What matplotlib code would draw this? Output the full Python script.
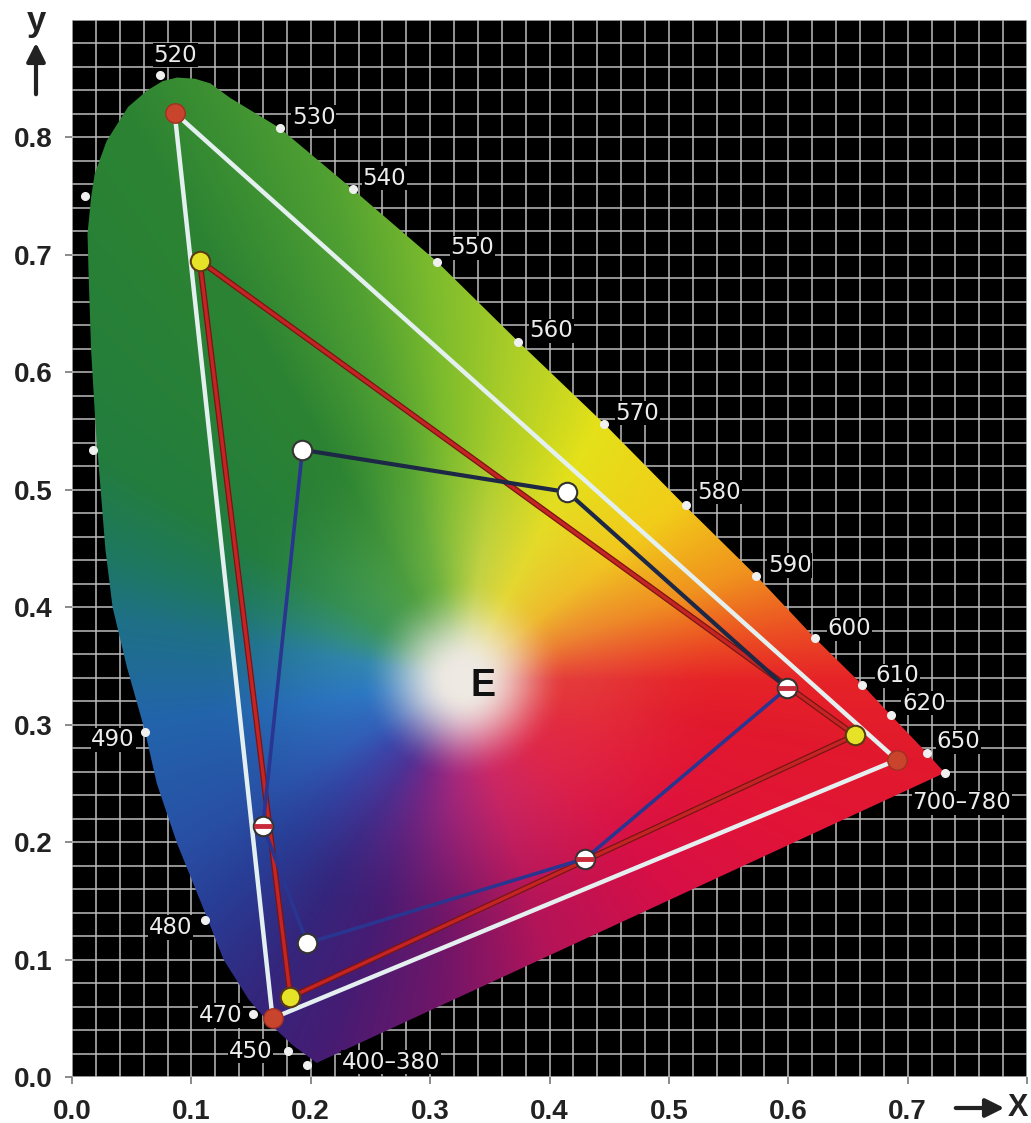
import numpy as np
import matplotlib
matplotlib.use("Agg")
import matplotlib.pyplot as plt
from matplotlib.patches import Polygon

# ---------------- data ----------------
locus_x = [0.205, 0.185, 0.165, 0.148, 0.127, 0.113, 0.088, 0.071, 0.061, 0.046,
           0.034, 0.028, 0.024, 0.020, 0.016, 0.014, 0.013, 0.016, 0.019, 0.029,
           0.047, 0.063, 0.076, 0.088, 0.103, 0.116, 0.132, 0.174, 0.235, 0.306,
           0.374, 0.446, 0.513, 0.573, 0.622, 0.662, 0.686, 0.716, 0.731]
locus_y = [0.012, 0.027, 0.046, 0.066, 0.100, 0.136, 0.199, 0.250, 0.295, 0.349,
           0.400, 0.449, 0.500, 0.550, 0.619, 0.680, 0.718, 0.749, 0.769, 0.797,
           0.826, 0.840, 0.848, 0.851, 0.850, 0.846, 0.834, 0.808, 0.756, 0.694,
           0.626, 0.556, 0.487, 0.427, 0.374, 0.334, 0.308, 0.276, 0.259]

wl_labels = ["520", "530", "540", "550", "560", "570", "580", "590", "600", "610",
             "620", "650", "700\u2013780", "490", "480", "470", "450", "400\u2013380"]
wl_x = [0.074, 0.174, 0.235, 0.306, 0.374, 0.446, 0.514, 0.573, 0.622, 0.662,
        0.686, 0.716, 0.731, 0.061, 0.111, 0.152, 0.181, 0.197]
wl_y = [0.853, 0.808, 0.756, 0.694, 0.626, 0.556, 0.487, 0.427, 0.374, 0.334,
        0.308, 0.276, 0.259, 0.294, 0.134, 0.054, 0.022, 0.010]
unlabeled_x = [0.011, 0.018]
unlabeled_y = [0.750, 0.534]

white_tri_x = [0.086, 0.691, 0.168]
white_tri_y = [0.821, 0.270, 0.050]
red_tri_x = [0.107, 0.656, 0.183]
red_tri_y = [0.695, 0.291, 0.068]
hex_x = [0.193, 0.415, 0.599, 0.430, 0.197, 0.160]
hex_y = [0.534, 0.498, 0.331, 0.186, 0.114, 0.214]
hex_split = [False, False, True, True, False, True]

E_point = (0.344, 0.333)
x_ticks = [0.0, 0.1, 0.2, 0.3, 0.4, 0.5, 0.6, 0.7, 0.8]
x_ticklabels = ["0.0", "0.1", "0.2", "0.3", "0.4", "0.5", "0.6", "0.7", ""]
y_ticks = [0.0, 0.1, 0.2, 0.3, 0.4, 0.5, 0.6, 0.7, 0.8]
y_ticklabels = ["0.0", "0.1", "0.2", "0.3", "0.4", "0.5", "0.6", "0.7", "0.8"]

# ---------------- style ----------------
# label offsets in pixels: (dx, dy, ha)
label_style = {
    "520": (15, 20, "center"), "530": (12, 11, "left"), "540": (10, 11, "left"),
    "550": (13, 14, "left"), "560": (11, 11, "left"), "570": (11, 11, "left"),
    "580": (12, 13, "left"), "590": (12, 10, "left"), "600": (13, 9, "left"),
    "610": (13, 9, "left"), "620": (11, 12, "left"), "650": (10, 11, "left"),
    "700\u2013780": (17, -30, "center"), "490": (-10, -8, "right"),
    "480": (-12, -8, "right"), "470": (-11, -2, "right"), "450": (-16, 0, "right"),
    "400\u2013380": (35, 3, "left"),
}

# colour field anchors (angle around white centre, outer colour, inner colour)
ang_tab = np.array([0, 8, 21, 40, 63, 82, 94, 105, 120, 148, 160, 170, 188, 210,
                    222, 237, 250, 265, 287, 314, 335, 350], float)
outer_tab = np.array([
    (230, 35, 40), (235, 75, 35), (240, 145, 30), (242, 205, 25), (228, 225, 25),
    (170, 205, 40), (125, 188, 45), (80, 160, 50), (44, 131, 50), (35, 125, 62),
    (30, 120, 95), (30, 112, 135), (35, 100, 172), (40, 80, 165), (40, 62, 150),
    (52, 38, 125), (70, 28, 115), (110, 22, 105), (180, 20, 88), (215, 15, 70),
    (225, 20, 55), (225, 25, 45)], float)
inner_tab = np.array([
    (228, 60, 60), (232, 85, 55), (236, 130, 50), (238, 185, 45), (228, 215, 50),
    (195, 210, 70), (150, 195, 65), (110, 178, 65), (80, 160, 65), (60, 150, 90),
    (55, 145, 130), (50, 135, 175), (45, 120, 195), (50, 95, 185), (60, 70, 170),
    (80, 50, 150), (120, 40, 135), (165, 40, 125), (205, 40, 100), (222, 40, 75),
    (226, 45, 65), (228, 55, 60)], float)
white_rgb = np.array([238, 233, 226], float)
centre = (0.328, 0.338)


def periodic_interp(a, angs, cols):
    ae = np.concatenate([angs - 360, angs, angs + 360])
    ce = np.vstack([cols, cols, cols])
    return np.stack([np.interp(a, ae, ce[:, k]) for k in range(3)], axis=-1)


def smooth(t):
    t = np.clip(t, 0, 1)
    return t * t * (3 - 2 * t)


W, H = 800, 900
gx = np.linspace(0, 0.8, W)
gy = np.linspace(0, 0.9, H)
GX, GY = np.meshgrid(gx, gy)
ang = np.degrees(np.arctan2(GY - centre[1], GX - centre[0])) % 360
rr = np.hypot(GX - centre[0], GY - centre[1])
outer = periodic_interp(ang, ang_tab, outer_tab)
inner = periodic_interp(ang, ang_tab, inner_tab)
t = smooth((rr - 0.012) / 0.075)[..., None]
u = smooth((rr - 0.07) / 0.15)[..., None]
col = white_rgb * (1 - t) + inner * t
col = col * (1 - u) + outer * u
col = np.clip(col / 255.0, 0, 1)

# ---------------- figure ----------------
fig = plt.figure(figsize=(10.31, 11.23), dpi=100)
ax = fig.add_axes([72 / 1031, 46 / 1123, 955 / 1031, 1057 / 1123])
ax.set_facecolor("black")
ax.set_xlim(0, 0.8)
ax.set_ylim(0, 0.9)

ax.set_xticks(np.arange(0, 0.8001, 0.02), minor=True)
ax.set_yticks(np.arange(0, 0.9001, 0.02), minor=True)
ax.set_xticks(x_ticks)
ax.set_xticklabels(x_ticklabels)
ax.set_yticks(y_ticks)
ax.set_yticklabels(y_ticklabels)
ax.grid(which="both", color="#bdbdbd", linewidth=1.1)
ax.set_axisbelow(True)
ax.tick_params(which="minor", length=0)
ax.tick_params(which="major", length=5, width=1.2, color="#777777",
               labelcolor="#222222")
ax.tick_params(axis="x", pad=11)
ax.tick_params(axis="y", pad=9)
for lab in ax.get_xticklabels() + ax.get_yticklabels():
    lab.set_fontfamily("Liberation Sans")
    lab.set_fontweight("bold")
    lab.set_fontsize(20)
for s in ax.spines.values():
    s.set_visible(False)

poly = Polygon(np.column_stack([locus_x, locus_y]), closed=True,
               facecolor="none", edgecolor="none", transform=ax.transData)
ax.add_patch(poly)
im = ax.imshow(col, origin="lower", extent=[0, 0.8, 0, 0.9], aspect="auto",
               interpolation="bilinear", zorder=1)
im.set_clip_path(poly)

# gamut outlines
wx = white_tri_x + [white_tri_x[0]]
wy = white_tri_y + [white_tri_y[0]]
ax.plot(wx, wy, color="#e4f0ef", lw=3.2, zorder=3, solid_capstyle="round")
rx = red_tri_x + [red_tri_x[0]]
ry = red_tri_y + [red_tri_y[0]]
ax.plot(rx, ry, color="#7a1414", lw=4.2, zorder=3)
ax.plot(rx, ry, color="#c42424", lw=2.4, zorder=3)
hx = hex_x + [hex_x[0]]
hy = hex_y + [hex_y[0]]
ax.plot(hx[:3], hy[:3], color="#1c2846", lw=3.0, zorder=3)
ax.plot(hx[2:], hy[2:], color="#2a3590", lw=2.6, zorder=3)

# vertex markers
ax.plot(white_tri_x, white_tri_y, "o", ms=14, mfc="#c8442c", mec="#a03020",
        mew=1, zorder=4, ls="none")
ax.plot(red_tri_x, red_tri_y, "o", ms=14, mfc="#e6e228", mec="#5a3a10",
        mew=1.5, zorder=4, ls="none")
ax.plot(hex_x, hex_y, "o", ms=14, mfc="white", mec="#333333", mew=1.5,
        zorder=4, ls="none")
sx = [x for x, s in zip(hex_x, hex_split) if s]
sy = [y for y, s in zip(hex_y, hex_split) if s]
ax.plot(sx, sy, "_", ms=13, mew=3.5, color="#c82a3a", zorder=5, ls="none")

# wavelength dots and labels
ax.plot(wl_x + unlabeled_x, wl_y + unlabeled_y, "o", ms=5.5, color="#f0f0f0",
        zorder=5, ls="none")
for lab, x, y in zip(wl_labels, wl_x, wl_y):
    dx, dy, ha = label_style[lab]
    ax.annotate(lab, (x, y), xytext=(dx, dy), textcoords="offset pixels",
                ha=ha, va="center", color="#ececec", fontsize=16.5,
                family="DejaVu Sans", zorder=6,
                bbox=dict(facecolor="black", edgecolor="none", pad=0.5))

ax.text(E_point[0], E_point[1], "E", ha="center", va="center", fontsize=27,
        fontweight="bold", family="Liberation Sans", color="#111111", zorder=6)

# axis names with arrows
fig.text(36 / 1031, 1 - 22 / 1123, "y", ha="center", va="center", fontsize=25,
         fontweight="bold", family="Liberation Sans", color="#222222")
ax.annotate("", xy=(36, 1083), xytext=(36, 1026), xycoords="figure pixels",
            textcoords="figure pixels", annotation_clip=False,
            arrowprops=dict(arrowstyle="-|>", lw=3, color="#222222",
                            mutation_scale=28))
fig.text(1018 / 1031, 15 / 1123, "X", ha="center", va="center", fontsize=22,
         fontweight="bold", family="Liberation Sans", color="#222222")
ax.annotate("", xy=(1007, 15), xytext=(953, 15), xycoords="figure pixels",
            textcoords="figure pixels", annotation_clip=False,
            arrowprops=dict(arrowstyle="-|>", lw=3, color="#222222",
                            mutation_scale=28))

fig.savefig("out.png", dpi=100, facecolor="white")
